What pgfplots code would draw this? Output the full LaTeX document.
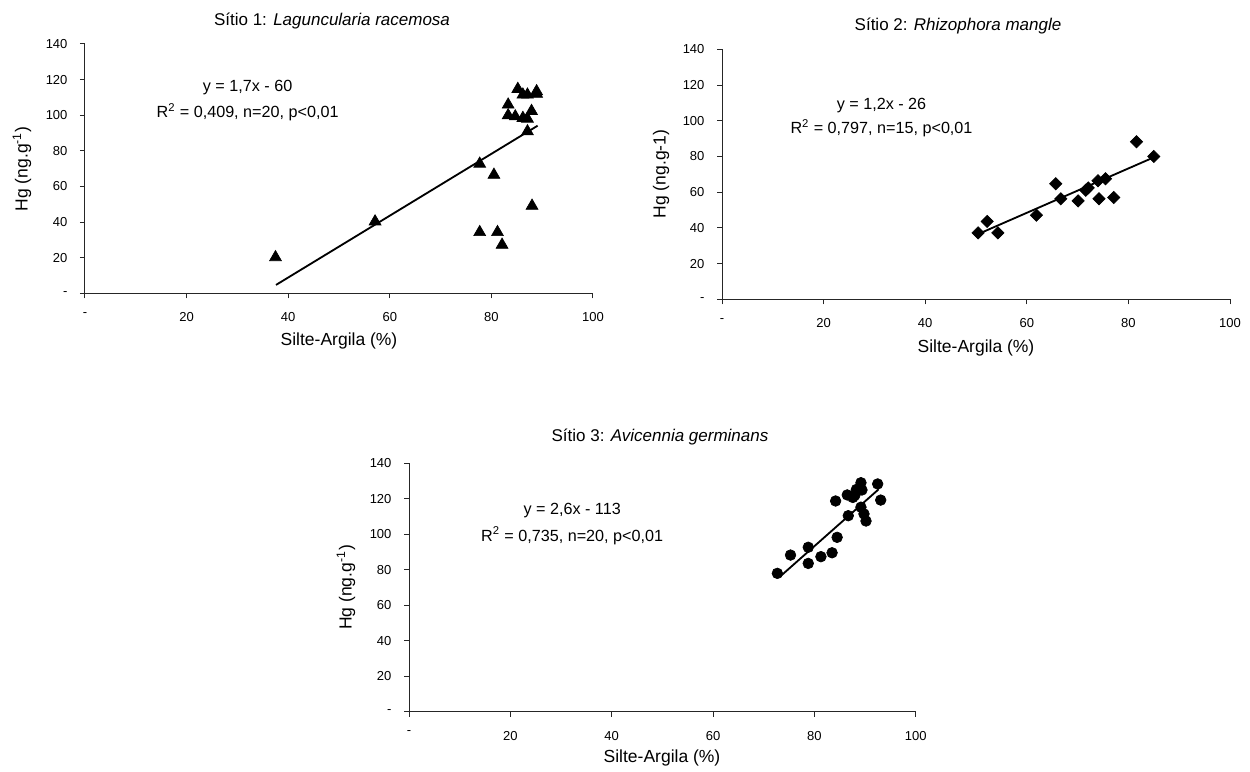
\documentclass[border=0pt]{standalone}
\usepackage{fontspec}
\setmainfont{Liberation Sans}
\usepackage{pgfplots}
\pgfplotsset{compat=1.18}

% one drawing unit
\def\u{0.6pt}

\pgfplotsset{
  mangue/.style={
    scale only axis,
    xmin=0, xmax=100, ymin=0, ymax=140,
    xtick={0,20,...,100}, xticklabels={-,20,40,60,80,100},
    ytick={0,20,...,140}, yticklabels={-,20,40,60,80,100,120,140},
    axis x line*=bottom, axis y line*=left,
    axis line style={-, line width=0.6pt, black!85},
    tick style={line width=0.6pt, black!85},
    tick align=outside, major tick length=3pt,
    ticklabel style={font=\fontsize{7.8}{9}\selectfont},
    xticklabel style={yshift=-5pt},
    yticklabel style={xshift=-4pt},
    clip=false,
  },
  trend/.style={black, line width=1.1pt, no markers},
}
\tikzset{notefont/.style={font=\fontsize{9.7}{11}\selectfont}}
\newcommand{\titlefont}{\fontsize{10.2}{12}\selectfont}
\newcommand{\labelfont}{\fontsize{10.5}{12}\selectfont}

\begin{document}
\begin{tikzpicture}
\path (0,0) rectangle (1250*\u,-769*\u);

% ---------- Sitio 1 ----------
\begin{axis}[mangue, at={(85*\u,-293.3*\u)}, anchor=south west,
  width=304.8pt, height=149.6pt]
\addplot[only marks, mark=triangle*, mark size=4.1pt, black] coordinates {
  (37.5,20.2) (57.1,40.3) (77.7,72.7) (80.5,66.5) (77.7,34.3)
  (81.2,34.3) (82.1,27.2) (88.0,49.1) (87.1,90.9) (83.3,105.9)
  (83.3,99.9) (84.7,99.3) (86.2,98.4) (87.1,98.0) (87.9,102.3)
  (85.2,114.7) (86.2,111.5) (87.1,111.5) (88.9,113.4) (88.9,112.0)
};
\addplot[trend] coordinates {(37.6,4.7) (89.1,94.1)};
\node[notefont] at (axis cs:32,115.3) {y = 1,7x - 60};
\node[notefont] at (axis cs:32,101.6) {R\textsuperscript{2} = 0,409, n=20, p<0,01};
\end{axis}

% ---------- Sitio 2 ----------
\begin{axis}[mangue, at={(722*\u,-299.3*\u)}, anchor=south west,
  width=304.8pt, height=150pt]
\addplot[only marks, mark=square*, mark options={rotate=45}, mark size=2.6pt, black] coordinates {
  (50.4,37.2) (52.2,43.6) (54.3,37.2) (61.9,47.1) (65.7,64.7)
  (66.7,56.3) (70.1,55.1) (71.6,61.1) (72.1,62.4) (74.0,66.4)
  (75.5,67.5) (74.2,56.3) (77.1,57.0) (81.6,88.2) (85.0,80.0)
};
\addplot[trend] coordinates {(50.4,36.5) (85.0,79.5)};
\node[notefont] at (axis cs:31.4,108.6) {y = 1,2x - 26};
\node[notefont] at (axis cs:31.4,95.7) {R\textsuperscript{2} = 0,797, n=15, p<0,01};
\end{axis}

% ---------- Sitio 3 ----------
\begin{axis}[mangue, at={(409*\u,-711.7*\u)}, anchor=south west,
  width=304pt, height=149pt]
\addplot[only marks, mark=*, mark size=3.2pt, black] coordinates {
  (72.7,78.0) (75.3,88.3) (78.8,92.7) (78.8,83.6) (81.3,87.4)
  (83.5,89.6) (84.5,98.3) (84.2,118.8) (86.5,122.2) (87.6,120.8)
  (86.7,110.5) (88.3,125.3) (89.2,129.1) (89.4,125.0) (89.2,115.3)
  (89.8,111.5) (90.2,107.5) (92.5,128.4) (93.1,119.3) (88.0,122.0)
};
\addplot[trend] coordinates {(73.2,76.1) (92.7,125.4)};
\node[notefont] at (axis cs:32.2,113.3) {y = 2,6x - 113};
\node[notefont] at (axis cs:32.2,99.2) {R\textsuperscript{2} = 0,735, n=20, p<0,01};
\end{axis}

% titles and axis labels
\node[font=\titlefont] at (332*\u,-21*\u) {Sítio 1: \textit{Laguncularia racemosa}};
\node[font=\titlefont] at (958*\u,-26*\u) {Sítio 2: \textit{Rhizophora mangle}};
\node[font=\titlefont] at (660*\u,-437*\u) {Sítio 3: \textit{Avicennia germinans}};

\node[font=\labelfont] at (339*\u,-341*\u) {Silte-Argila (\%)};
\node[font=\labelfont] at (976*\u,-348*\u) {Silte-Argila (\%)};
\node[font=\labelfont] at (662*\u,-758*\u) {Silte-Argila (\%)};

\node[font=\labelfont, rotate=90] at (22*\u,-169*\u) {Hg (ng.g\textsuperscript{-1})};
\node[font=\labelfont, rotate=90] at (661*\u,-174*\u) {Hg (ng.g-1)};
\node[font=\labelfont, rotate=90] at (346*\u,-587.5*\u) {Hg (ng.g\textsuperscript{-1})};
\end{tikzpicture}
\end{document}
